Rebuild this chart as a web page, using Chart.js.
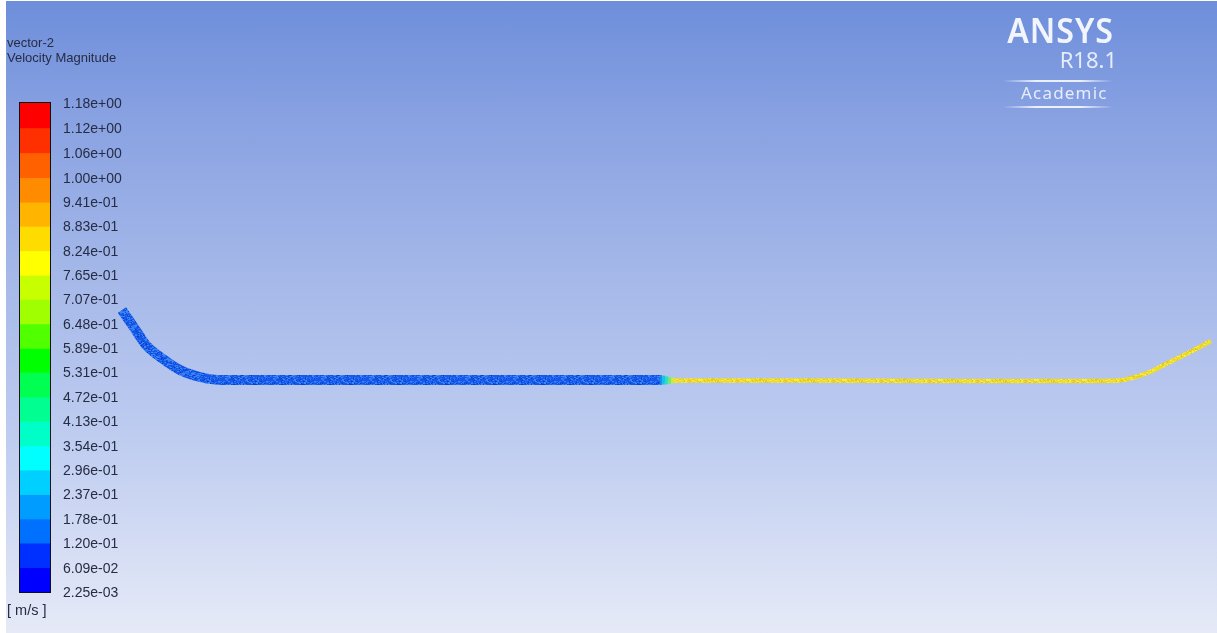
<!DOCTYPE html>
<html><head><meta charset="utf-8">
<style>
html,body{margin:0;padding:0;width:1217px;height:633px;overflow:hidden;background:#fff}
#bg{position:absolute;left:6px;top:1px;width:1211px;height:632px;background:linear-gradient(180deg,#6e8edb 0%,#8aa3e2 20%,#a6b9e9 45%,#bfcdf0 70%,#e6eaf7 100%)}
canvas{position:absolute}
#flowWrap{position:absolute;left:0;top:0;width:1217px;height:633px}
#barWrap{position:absolute;left:0;top:80px;width:140px;height:536px}
.t{position:absolute;font-family:"Liberation Sans",Arial,sans-serif;color:#262c44;white-space:nowrap}
.logo{position:absolute;font-family:"Noto Sans",sans-serif;color:#f2f5fd;white-space:nowrap}
.rule{position:absolute;left:1003px;width:110px;height:2px;background:linear-gradient(90deg,rgba(255,255,255,0),rgba(255,255,255,.85) 30%,rgba(255,255,255,.85) 70%,rgba(255,255,255,0))}
</style>
<script src="https://cdn.jsdelivr.net/npm/chart.js@4"></script>
</head><body>
<div id="bg"></div>
<div id="flowWrap"><canvas id="flow" width="1217" height="633"></canvas></div>
<div id="barWrap"><canvas id="bar" width="140" height="536"></canvas></div>
<div class="t" style="left:7px;top:35px;font-size:13px;line-height:15px">vector-2<br>Velocity Magnitude</div>
<div class="t" style="left:7px;top:602px;font-size:14.5px;line-height:16px">[ m/s ]</div>
<div class="logo" style="right:103px;top:8px;font-size:35px;line-height:44px;font-weight:600;letter-spacing:1px;transform:scaleX(.92);transform-origin:right center">ANSYS</div>
<div class="logo" style="right:100px;top:46px;font-size:22px;line-height:26px;opacity:.9">R18.1</div>
<div class="rule" style="top:80px"></div>
<div class="logo" style="left:1021px;top:80px;font-size:17px;line-height:26px;opacity:.9;letter-spacing:1.2px">Academic</div>
<div class="rule" style="top:106px"></div>
<script>
// Colour bar: level values, top to bottom
const levelLabels = ["1.18e+00","1.12e+00","1.06e+00","1.00e+00","9.41e-01","8.83e-01","8.24e-01","7.65e-01","7.07e-01","6.48e-01","5.89e-01","5.31e-01","4.72e-01","4.13e-01","3.54e-01","2.96e-01","2.37e-01","1.78e-01","1.20e-01","6.09e-02","2.25e-03"];
const levelValues = levelLabels.map(Number);
const bandColors = ["#ff0000","#ff3000","#ff6000","#ff8c00","#ffb400","#ffdc00","#ffff00","#c8ff00","#a0ff00","#50ff00","#00ff00","#00ff50","#00ff90","#00ffc8","#00ffff","#00d0ff","#009cff","#0070ff","#0030ff","#0000ff"];

// Vector paths
const upstreamX = [122,135,146,163,180,200,222,300,450,600,660];
const upstreamY = [310,329,345,359,370,377,380,380,380,380,380];
const transitionX = [656,659,662,665,668,671,674,677];
const transitionY = [380,380,380,380.2,380.4,380.5,380.5,380.5];
const transitionColors = ["#0c62f0","#0c90f0","#18bfe8","#30dcc0","#70e880","#c8e850","#e8dc30"];
const transitionWidths = [10,10,9,8,7,6,5];
const downstreamX = [674,800,950,1080,1118,1135,1150,1160,1190,1211];
const downstreamY = [380.5,380.5,381,381,380.5,377,372,367,352,341];

function speckle(base, tones, size, seed){
  const c=document.createElement('canvas');c.width=c.height=size;
  const g=c.getContext('2d');g.fillStyle=base;g.fillRect(0,0,size,size);
  let s=seed;
  for(let i=0;i<size*size*0.55;i++){
    s=(s*16807)%2147483647;const x=s%size;
    s=(s*16807)%2147483647;const y=s%size;
    s=(s*16807)%2147483647;g.fillStyle=tones[s%tones.length];
    g.fillRect(x,y,1+(s%2),1);
  }
  return g.createPattern(c,'repeat');
}
const blueTex = speckle('#1658ea',['#0c3cd0','#2a74f0','#1250e4','#3d86f2'],48,12345);
const yellowTex = speckle('#f0dc28',['#e6c418','#f8ec48','#dcc838','#eee028'],48,777);
const pts=(xs,ys)=>xs.map((x,i)=>({x,y:ys[i]}));

new Chart(document.getElementById('flow'),{
  type:'scatter',
  data:{datasets:[
    {data:pts(upstreamX,upstreamY),showLine:true,borderColor:blueTex,borderWidth:10,pointRadius:0,cubicInterpolationMode:'monotone',borderCapStyle:'butt'},
    {data:pts(downstreamX,downstreamY),showLine:true,borderColor:yellowTex,borderWidth:4.5,pointRadius:0,cubicInterpolationMode:'monotone',borderCapStyle:'butt'},
    {data:pts(transitionX,transitionY),showLine:true,borderWidth:6,pointRadius:0,borderColor:'#18cfe0',
      segment:{borderColor:c=>transitionColors[c.p0DataIndex],borderWidth:c=>transitionWidths[c.p0DataIndex]}}
  ]},
  options:{responsive:false,animation:false,
    layout:{padding:0},
    plugins:{legend:{display:false},tooltip:{enabled:false},title:{display:false}},
    scales:{x:{type:'linear',min:0,max:1217,display:false},y:{type:'linear',min:0,max:633,reverse:true,display:false}}
  }
});

const outline={id:'outline',afterDatasetsDraw(ch){
  const a=ch.chartArea,g=ch.ctx;g.save();g.strokeStyle='#101018';g.lineWidth=1;
  g.strokeRect(a.left-.5,a.top-.5,a.right-a.left+1,a.bottom-a.top+1);g.restore();
}};
new Chart(document.getElementById('bar'),{
  type:'bar',
  plugins:[outline],
  data:{labels:['v'],datasets:bandColors.map((col,i)=>({
    data:[[levelValues[i+1],levelValues[i]]],backgroundColor:col,borderWidth:0,
    barPercentage:1,categoryPercentage:1,grouped:false}))},
  options:{responsive:false,animation:false,
    layout:{padding:{left:20,right:0,top:23,bottom:24}},
    plugins:{legend:{display:false},tooltip:{enabled:false}},
    scales:{
      x:{display:false,stacked:false},
      y:{position:'right',min:levelValues[20],max:levelValues[0],
        border:{display:false},grid:{display:false,drawTicks:false},
        afterBuildTicks(ax){ax.ticks=levelValues.map(value=>({value}));},
        afterFit(ax){ax.width=90;},
        ticks:{autoSkip:false,padding:13,labelOffset:1,color:'#262c44',font:{family:'"Liberation Sans",Arial,sans-serif',size:14},
          callback:(v,i)=>levelLabels[i]}
      }
    }
  }
});
</script>
</body></html>
